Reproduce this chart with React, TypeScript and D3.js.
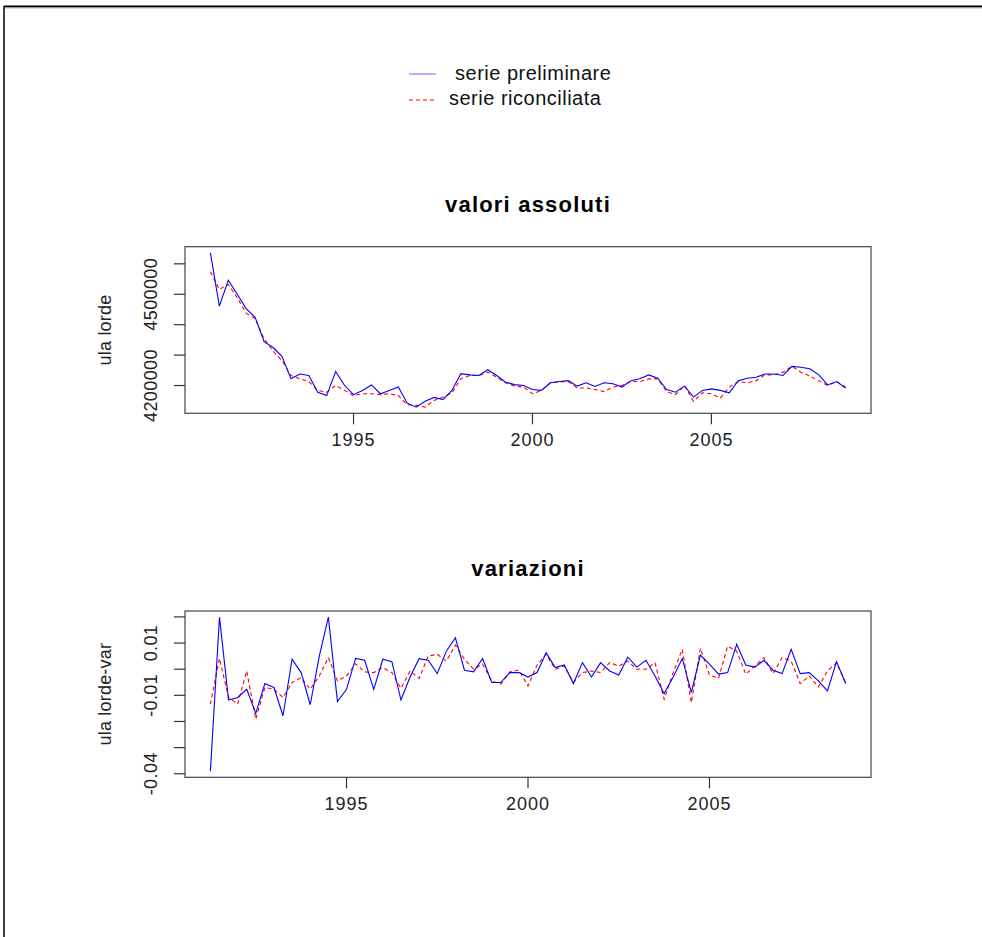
import { scaleLinear, line, extent } from "d3";

// quarterly series, 1991Q1 - 2008Q4
const startYear = 1991;
const frequency = 4;

const preliminare = [
  4636000, 4461000, 4546000, 4500000, 4453000, 4424000, 4344000, 4325000,
  4296000, 4222000, 4238000, 4233000, 4178000, 4167000, 4246000, 4200000,
  4170000, 4184000, 4202000, 4173000, 4184000, 4195000, 4142000, 4129000,
  4148000, 4161000, 4154000, 4184000, 4239000, 4235000, 4233000, 4252000,
  4233000, 4211000, 4203000, 4200000, 4187000, 4184000, 4209000, 4213000,
  4216000, 4198000, 4209000, 4197000, 4209000, 4206000, 4195000, 4216000,
  4222000, 4235000, 4224000, 4187000, 4178000, 4198000, 4162000, 4184000,
  4189000, 4184000, 4176000, 4216000, 4224000, 4227000, 4238000, 4238000,
  4233000, 4263000, 4260000, 4255000, 4235000, 4202000, 4213000, 4192000,
];

const riconciliata = [
  4574000, 4516000, 4532000, 4489000, 4438000, 4420000, 4353000, 4314000,
  4282000, 4233000, 4222000, 4213000, 4184000, 4178000, 4200000, 4184000,
  4167000, 4173000, 4173000, 4170000, 4173000, 4167000, 4137000, 4135000,
  4129000, 4151000, 4162000, 4176000, 4222000, 4233000, 4233000, 4244000,
  4227000, 4209000, 4198000, 4195000, 4173000, 4184000, 4209000, 4211000,
  4213000, 4192000, 4192000, 4187000, 4180000, 4195000, 4200000, 4213000,
  4213000, 4222000, 4222000, 4180000, 4170000, 4200000, 4148000, 4176000,
  4173000, 4159000, 4195000, 4213000, 4209000, 4216000, 4235000, 4235000,
  4244000, 4263000, 4244000, 4231000, 4216000, 4200000, 4213000, 4195000,
];

// variations start one quarter later (1991Q2)
const varPreliminare = [
  -0.039, 0.0199, -0.0118, -0.0108, -0.0077, -0.0169, -0.0055, -0.007,
  -0.0178, 0.0038, -0.0013, -0.0136, 0.005, 0.0199, -0.0124, -0.0077,
  0.0041, 0.0034, -0.0077, 0.0038, 0.0029, -0.0118, -0.003, 0.004,
  0.0034, -0.0017, 0.0069, 0.012, -0.0004, -0.001, 0.0041, -0.0051,
  -0.0051, -0.0013, -0.0013, -0.003, -0.0013, 0.0063, 0.0006, 0.0016,
  -0.0055, 0.0025, -0.003, 0.0025, -0.0007, -0.0022, 0.0046, 0.0008,
  0.0034, -0.0026, -0.0093, -0.003, 0.0041, -0.0089, 0.0054, 0.0019,
  -0.0019, -0.0013, 0.0095, 0.0016, 0.0008, 0.0034, -0.0004, -0.0017,
  0.0076, -0.0017, -0.0013, -0.0045, -0.0083, 0.0029, -0.0055,
];

const varRiconciliata = [
  -0.0134, 0.0041, -0.0108, -0.0134, -0.0007, -0.0191, -0.007, -0.0077,
  -0.0108, -0.0051, -0.0032, -0.0077, -0.0026, 0.0044, -0.0045, -0.0026,
  0.0021, -0.001, -0.0013, 0.0006, -0.0013, -0.0073, -0.0007, -0.0035,
  0.005, 0.0057, 0.0031, 0.0092, 0.0038, 0.0, 0.0019, -0.0045,
  -0.0057, -0.001, -0.0004, -0.0064, 0.0016, 0.0057, 0.0, 0.0012,
  -0.0051, -0.0013, -0.0007, -0.0013, 0.0025, 0.0012, 0.0031, 0.0,
  0.0, 0.0025, -0.0115, -0.0013, 0.0076, -0.0128, 0.008, -0.0022,
  -0.0035, 0.0088, 0.0069, -0.0019, 0.0012, 0.0044, -0.0017, 0.0044,
  0.0031, -0.0055, -0.0026, -0.0068, -0.0007, 0.0025, -0.0051,
];

const xTicks = [1995, 2000, 2005];
const levelTicks = [4200000, 4300000, 4400000, 4500000, 4600000];
const levelLabels = [4200000, 4500000];
const varTicks = [-0.04, -0.03, -0.02, -0.01, 0, 0.01, 0.02];
const varLabels = [-0.04, -0.01, 0.01];

const legendLabels = [" serie preliminare", "serie riconciliata"];
const legendColors = ["#0000ff", "#ff0000"];

const FONT = "'Liberation Sans', Arial, sans-serif";
const left = 185;
const right = 871;

// R-style axis range: data range extended by 4% on each side
const pad = (lo: number, hi: number) => {
  const r = hi - lo;
  return [lo - 0.04 * r, hi + 0.04 * r];
};

type PanelProps = {
  title: string;
  yLabel: string;
  top: number;
  bottom: number;
  start: number;
  blue: number[];
  red: number[];
  ticks: number[];
  labels: number[];
  fmt: (v: number) => string;
};

const Panel = ({ title, yLabel, top, bottom, start, blue, red, ticks, labels, fmt }: PanelProps) => {
  const n = blue.length;
  const t = (i: number) => start + i / frequency;
  const x = scaleLinear()
    .domain(pad(t(0), t(n - 1)))
    .range([left, right]);
  const [lo, hi] = extent([...blue, ...red]) as [number, number];
  const y = scaleLinear().domain(pad(lo, hi)).range([bottom, top]);

  const gen = line<number>()
    .x((_, i) => x(t(i)))
    .y((d) => y(d));

  const midY = (top + bottom) / 2;
  return (
    <g fontFamily={FONT}>
      <text
        x={(left + right) / 2}
        y={top - 35}
        textAnchor="middle"
        fontWeight="bold"
        fontSize={22}
        letterSpacing={1.2}
      >
        {title}
      </text>
      <path d={gen(red) ?? ""} fill="none" stroke="#ff0000" strokeWidth={1.1} strokeDasharray="4,3" />
      <path d={gen(blue) ?? ""} fill="none" stroke="#0000ff" strokeWidth={1.1} />
      <rect x={left} y={top} width={right - left} height={bottom - top} fill="none" stroke="#444" strokeWidth={1.2} />
      {xTicks.map((v) => (
        <g key={v}>
          <line x1={x(v)} x2={x(v)} y1={bottom} y2={bottom + 11} stroke="#333" strokeWidth={1.2} />
          <text x={x(v)} y={bottom + 33} textAnchor="middle" fontSize={18} letterSpacing={1} fill="#222">
            {v}
          </text>
        </g>
      ))}
      {ticks.map((v) => (
        <line key={v} x1={left - 11} x2={left} y1={y(v)} y2={y(v)} stroke="#333" strokeWidth={1.2} />
      ))}
      {labels.map((v) => (
        <text
          key={v}
          transform={`translate(157,${y(v)}) rotate(-90)`}
          textAnchor="middle"
          fontSize={18}
          letterSpacing={0.4}
          fill="#222"
        >
          {fmt(v)}
        </text>
      ))}
      <text
        transform={`translate(111,${midY}) rotate(-90)`}
        textAnchor="middle"
        fontSize={18}
        letterSpacing={0.2}
        fill="#222"
      >
        {yLabel}
      </text>
    </g>
  );
};

export default function App() {
  return (
    <svg
      width={982}
      height={937}
      style={{ position: "absolute", left: 0, top: 0, background: "#fff" }}
    >
      <line x1={4} x2={982} y1={6.5} y2={6.5} stroke="#000" strokeWidth={2} />
      <line x1={4} x2={982} y1={8} y2={8} stroke="#bbb" strokeWidth={1} />
      <line x1={4} x2={4} y1={6} y2={937} stroke="#000" strokeWidth={1.5} />

      <g fontFamily={FONT} fontSize={20}>
        {legendLabels.map((lab, i) => (
          <g key={lab}>
            <line
              x1={409}
              x2={436}
              y1={74 + i * 26}
              y2={74 + i * 26}
              stroke={legendColors[i]}
              strokeOpacity={i === 0 ? 0.6 : 1}
              strokeDasharray={i === 0 ? undefined : "4,3"}
            />
            <text
              x={449}
              y={79.5 + i * 25}
              letterSpacing={0.5}
              style={{ whiteSpace: "pre" }}
              fill="#111"
            >
              {lab}
            </text>
          </g>
        ))}
      </g>

      <Panel
        title="valori assoluti"
        yLabel="ula lorde"
        top={246.7}
        bottom={413.3}
        start={startYear}
        blue={preliminare}
        red={riconciliata}
        ticks={levelTicks}
        labels={levelLabels}
        fmt={(v) => String(v)}
      />
      <Panel
        title="variazioni"
        yLabel="ula lorde-var"
        top={611}
        bottom={777.3}
        start={startYear + 1 / frequency}
        blue={varPreliminare}
        red={varRiconciliata}
        ticks={varTicks}
        labels={varLabels}
        fmt={(v) => v.toFixed(2)}
      />
    </svg>
  );
}
